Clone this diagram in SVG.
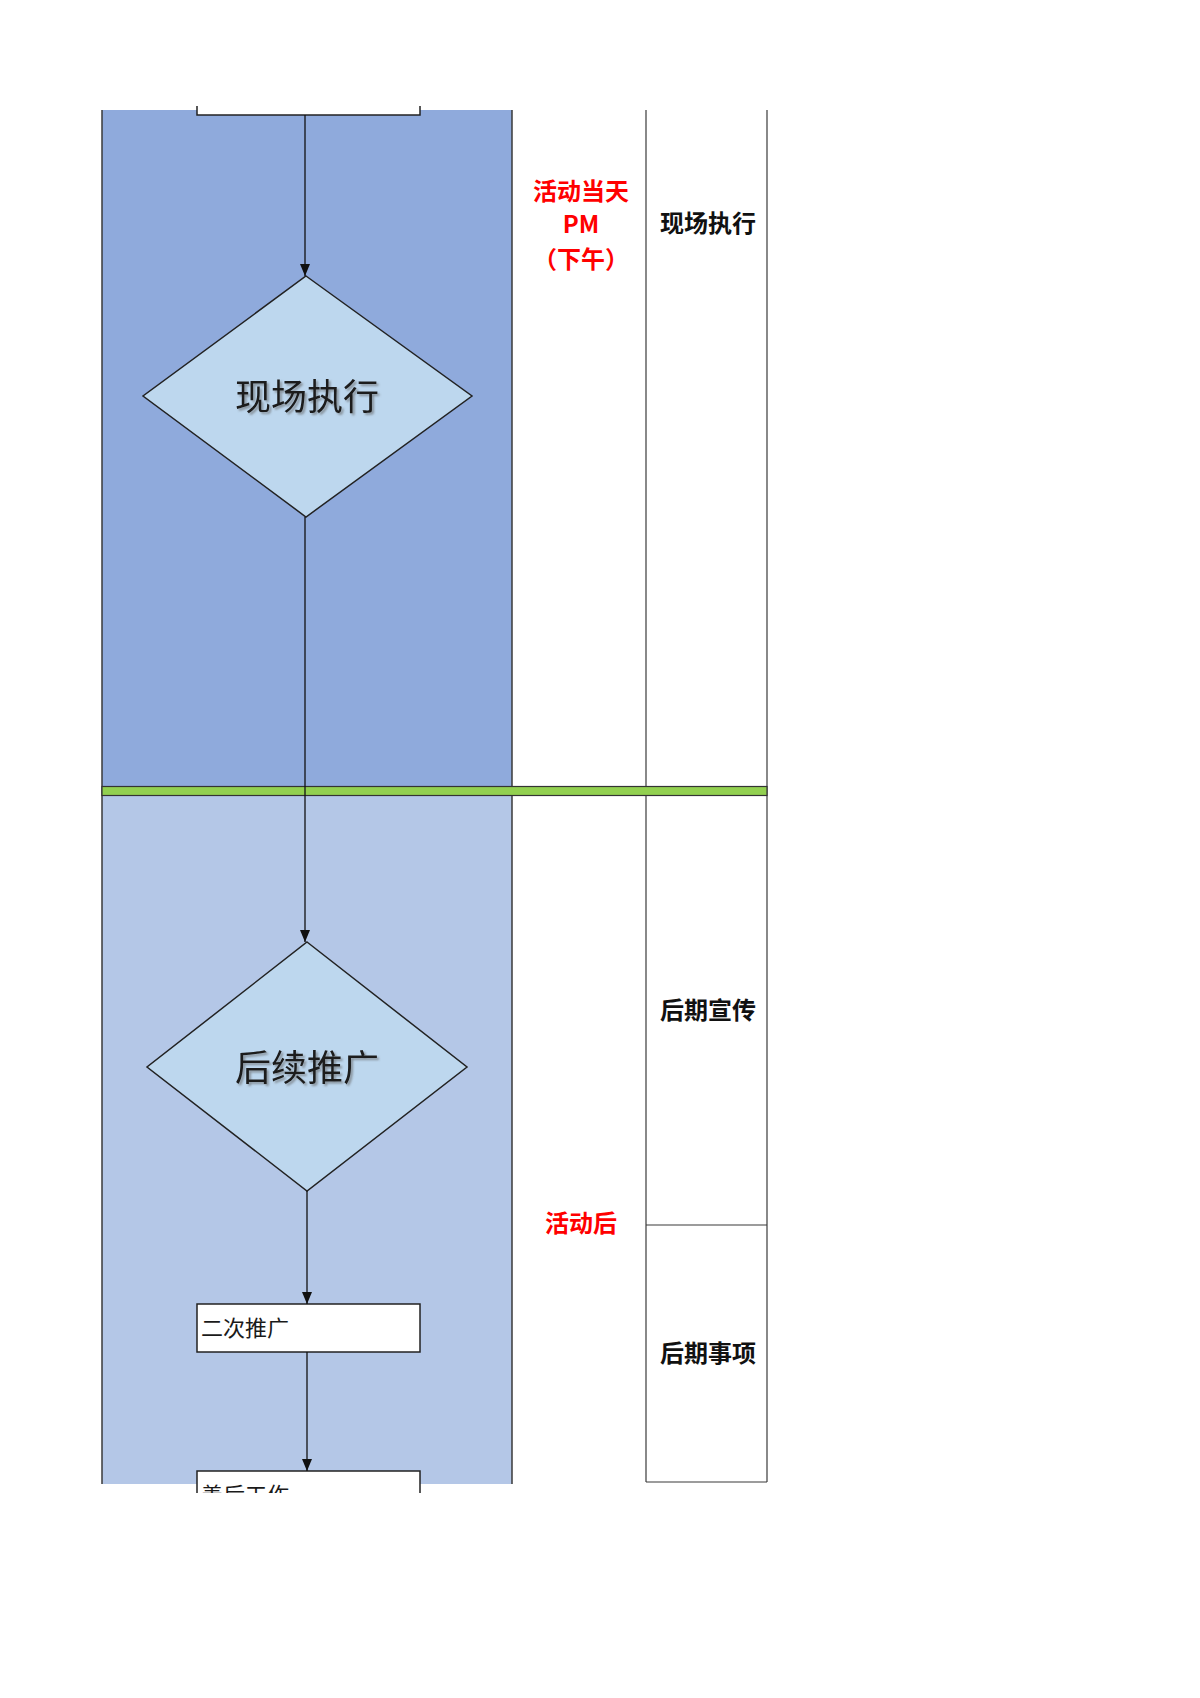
<svg xmlns="http://www.w3.org/2000/svg" width="1200" height="1698" viewBox="0 0 1200 1698">
  <style>
    .lane-line { stroke: #3a3a3a; stroke-width: 1.5; fill: none; }
    .grid { stroke: #3a3a3a; stroke-width: 1.2; fill: none; }
    .diamond { fill: #BDD7EE; stroke: #222; stroke-width: 1.5; }
    .box { fill: #FFFFFF; stroke: #222; stroke-width: 1.5; }
    .conn { stroke: #111; stroke-width: 1.3; fill: none; marker-end: url(#arrow); }
    .dtext { font-family: "Noto Sans CJK SC", "Noto Sans", sans-serif; font-size: 36px; fill: #1a1a1a; text-anchor: middle; filter: url(#shadow); }
    .btext { font-family: "Noto Sans CJK SC", "Noto Sans", sans-serif; font-size: 22px; fill: #1a1a1a; }
    .stage { font-family: "Noto Sans CJK SC", "Noto Sans", sans-serif; font-size: 24px; font-weight: bold; fill: #FF0000; text-anchor: middle; }
    .phase { font-family: "Noto Sans CJK SC", "Noto Sans", sans-serif; font-size: 24px; font-weight: bold; fill: #111; text-anchor: middle; }
  </style>
  <defs>
    <marker id="arrow" markerWidth="12" markerHeight="10" refX="12" refY="5" orient="auto" markerUnits="userSpaceOnUse" viewBox="0 0 12 10">
      <path d="M0,0 L12,5 L0,10 Z" fill="#111"/>
    </marker>
    <filter id="shadow" x="-10%" y="-20%" width="130%" height="150%">
      <feDropShadow dx="2" dy="2" stdDeviation="1.2" flood-color="#606060" flood-opacity="0.6"/>
    </filter>
    <clipPath id="page">
      <rect x="0" y="106" width="1200" height="1387"/>
    </clipPath>
  </defs>
  <rect width="1200" height="1698" fill="#FFFFFF"/>

  <g clip-path="url(#page)">
    <g id="lane-upper">
      <rect x="102" y="110" width="410" height="676" fill="#8FAADC"/>
    </g>
    <g id="lane-lower">
      <rect x="102" y="796" width="410" height="688" fill="#B4C7E7"/>
    </g>

    <g id="grid">
      <line class="lane-line" x1="102" y1="110" x2="102" y2="1484"/>
      <line class="lane-line" x1="512" y1="110" x2="512" y2="1484"/>
      <line class="grid" x1="646" y1="110" x2="646" y2="1482"/>
      <line class="grid" x1="767" y1="110" x2="767" y2="1482"/>
      <line class="grid" x1="646" y1="1225" x2="767" y2="1225"/>
      <line class="grid" x1="646" y1="1482" x2="767" y2="1482"/>
    </g>

    <g id="divider">
      <rect x="102" y="786.5" width="665" height="9" fill="#92D050" stroke="#333" stroke-width="1.2"/>
    </g>

    <g id="node-top-box">
      <rect class="box" x="197" y="60" width="223" height="55"/>
    </g>

    <g id="node-diamond-1">
      <polygon class="diamond" points="306,276 472,396 306,517 143,396"/>
      <text class="dtext" x="307" y="410">现场执行</text>
    </g>

    <g id="node-diamond-2">
      <polygon class="diamond" points="307,942 467,1067 307,1191 147,1067"/>
      <text class="dtext" x="307" y="1081">后续推广</text>
    </g>

    <g id="node-box-2">
      <rect class="box" x="197" y="1304" width="223" height="48"/>
      <text class="btext" x="201" y="1336">二次推广</text>
    </g>

    <g id="node-box-3">
      <rect class="box" x="197" y="1471" width="223" height="48"/>
      <text class="btext" x="201" y="1503">善后工作</text>
    </g>

    <g id="connectors">
      <line class="conn" x1="305" y1="115" x2="305" y2="276"/>
      <line class="conn" x1="305" y1="517" x2="305" y2="942"/>
      <line class="conn" x1="307" y1="1191" x2="307" y2="1304"/>
      <line class="conn" x1="307" y1="1352" x2="307" y2="1471"/>
    </g>

    <g id="labels">
      <text class="stage" x="581" y="200">活动当天</text>
      <text class="stage" x="581" y="233">PM</text>
      <text class="stage" x="581" y="268">（下午）</text>
      <text class="phase" x="708" y="232">现场执行</text>
      <text class="phase" x="708" y="1019">后期宣传</text>
      <text class="stage" x="581" y="1232">活动后</text>
      <text class="phase" x="708" y="1362">后期事项</text>
    </g>
  </g>
</svg>
